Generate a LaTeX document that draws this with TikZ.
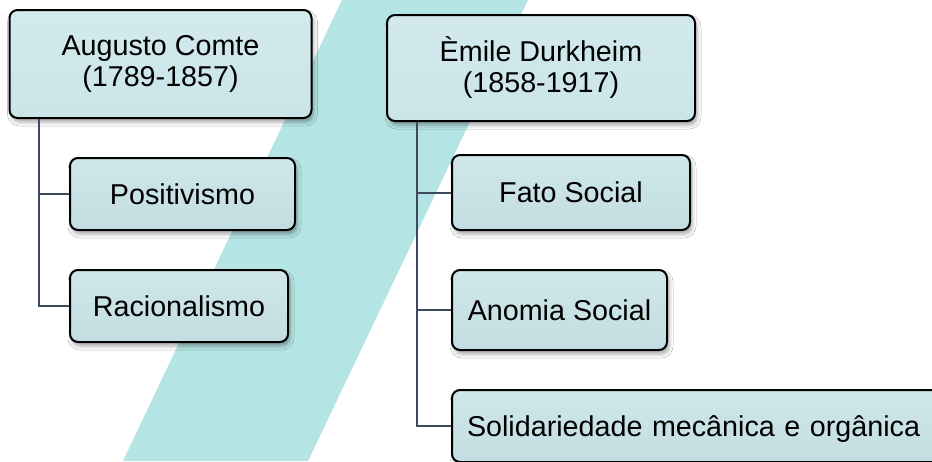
\documentclass[tikz,border=0pt]{standalone}
\usepackage{fontspec}
\setmainfont{Liberation Sans}
\usetikzlibrary{shadows.blur}
\definecolor{bandcol}{HTML}{B5E4E4}
\definecolor{roottop}{HTML}{D3EAED}
\definecolor{rootbot}{HTML}{CAE4E8}
\definecolor{kidtop}{HTML}{CFE7EA}
\definecolor{kidbot}{HTML}{C2DDE1}
\definecolor{conncol}{HTML}{3E4A5E}
\tikzset{
  box/.style={draw=black, line width=2pt, rounded corners=8pt, align=center,
    font=\fontsize{28.7}{31}\selectfont, inner sep=0pt,
    blur shadow={shadow xshift=2pt, shadow yshift=-4pt, shadow blur radius=4pt, shadow opacity=35}},
  rootbox/.style={box, top color=roottop, bottom color=rootbot},
  kidbox/.style={box, top color=kidtop, bottom color=kidbot},
  conn/.style={draw=conncol, line width=2pt},
}
\begin{document}
\begin{tikzpicture}[x=1pt, y=-1pt]
\useasboundingbox (0,0) rectangle (932,461);
\clip (0,0) rectangle (932,461);
\fill[white] (0,0) rectangle (932,461);
\fill[bandcol] (342,0) -- (528,0) -- (308,461) -- (123,461) -- cycle;

\node[rootbox, minimum width=302pt, minimum height=108pt] (comte) at (160.5,64) {Augusto Comte\\(1789-1857)};
\node[kidbox, minimum width=225pt, minimum height=72pt] (posit) at (182.5,194) {Positivismo};
\node[kidbox, minimum width=218pt, minimum height=72pt] (racio) at (179,306) {Racionalismo};

\node[rootbox, minimum width=308pt, minimum height=106pt] (durk) at (541,68) {Èmile Durkheim\\(1858-1917)};
\node[kidbox, minimum width=238pt, minimum height=75pt] (fato) at (571,192.5) {Fato Social};
\node[kidbox, minimum width=215pt, minimum height=80pt] (anom) at (559.5,310) {Anomia Social};
\node[kidbox, minimum width=493pt, minimum height=72pt, text width=493pt, align=left, text depth=0pt] (soli) at (698.5,426) {\hspace*{15pt}Solidariedade mecânica e orgânica};

\draw[conn] (comte.south west) ++(30,0) |- (posit.west);
\draw[conn] (comte.south west) ++(30,0) |- (racio.west);
\draw[conn] (durk.south west) ++(31,0) |- (fato.west);
\draw[conn] (durk.south west) ++(31,0) |- (anom.west);
\draw[conn] (durk.south west) ++(31,0) |- (soli.west);
\end{tikzpicture}
\end{document}
